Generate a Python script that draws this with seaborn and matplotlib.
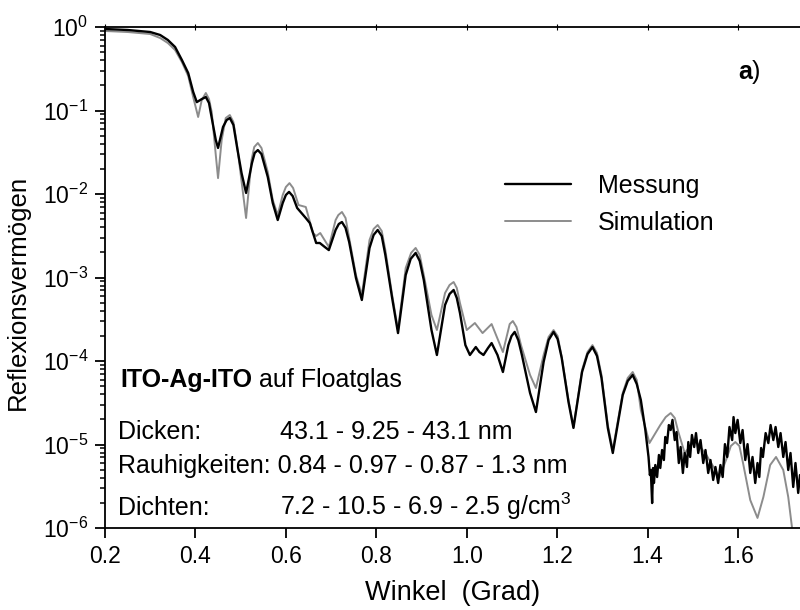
import matplotlib
matplotlib.use("Agg")
import matplotlib.pyplot as plt
import numpy as np
import pandas as pd
import seaborn as sns

# ---------------- data ----------------
winkel_mess = [
    0.200, 0.250, 0.300, 0.322, 0.339, 0.355, 0.370, 0.384, 0.395, 0.403,
    0.414, 0.423, 0.430, 0.436, 0.445, 0.450, 0.461, 0.469, 0.476, 0.484,
    0.492, 0.502, 0.512, 0.525, 0.531, 0.538, 0.546, 0.560, 0.571, 0.582,
    0.593, 0.600, 0.607, 0.615, 0.625, 0.644, 0.653, 0.660, 0.667, 0.675,
    0.686, 0.695, 0.710, 0.717, 0.724, 0.732, 0.740, 0.755, 0.768, 0.785,
    0.794, 0.803, 0.812, 0.820, 0.835, 0.848, 0.865, 0.876, 0.887, 0.896,
    0.905, 0.922, 0.934, 0.952, 0.962, 0.971, 0.978, 0.985, 0.997, 1.007,
    1.020, 1.028, 1.037, 1.047, 1.055, 1.068, 1.080, 1.092, 1.099, 1.106,
    1.114, 1.122, 1.140, 1.153, 1.170, 1.181, 1.192, 1.201, 1.210, 1.225,
    1.236, 1.255, 1.267, 1.278, 1.288, 1.298, 1.312, 1.323, 1.345, 1.356,
    1.367, 1.376, 1.385, 1.395,
    1.402, 1.405, 1.407, 1.410, 1.412, 1.414, 1.417, 1.421, 1.425,
    1.428, 1.432, 1.436, 1.439, 1.443, 1.447, 1.451, 1.455, 1.460, 1.464,
    1.469, 1.473, 1.478, 1.482, 1.487, 1.490, 1.494, 1.498, 1.503, 1.507,
    1.512, 1.517, 1.523, 1.528, 1.534, 1.539, 1.545, 1.550, 1.556, 1.561,
    1.566, 1.571, 1.576, 1.581, 1.587, 1.590, 1.594, 1.599, 1.605, 1.610,
    1.616, 1.621, 1.627, 1.632, 1.638, 1.643, 1.647, 1.651, 1.655, 1.661,
    1.667, 1.672, 1.678, 1.683, 1.689, 1.694, 1.700, 1.705, 1.711, 1.716,
    1.722, 1.727, 1.733, 1.737,
]
refl_mess = [
    0.946, 0.921, 0.871, 0.802, 0.699, 0.576, 0.403, 0.281, 0.167, 0.126,
    0.137, 0.145, 0.123, 0.0813, 0.0443, 0.0356, 0.0635, 0.0769, 0.0813, 0.0671,
    0.0365, 0.0178, 0.0103, 0.0235, 0.0310, 0.0336, 0.0301, 0.0160, 0.00780, 0.00488,
    0.00780, 0.00973, 0.0106, 0.00946, 0.00680, 0.00516, 0.00449, 0.00341, 0.00259, 0.00259,
    0.00232, 0.00213, 0.00371, 0.00437, 0.00462, 0.00392, 0.00266, 0.000986, 0.000538, 0.00226,
    0.00323, 0.00371, 0.00314, 0.00186, 0.000568, 0.000216, 0.00107, 0.00167, 0.00197, 0.00158,
    0.000933, 0.000235, 0.000118, 0.000469, 0.000635, 0.000709, 0.000568, 0.000376, 0.000155, 0.000118,
    0.000147, 0.000128, 0.000118, 0.000143, 0.000164, 0.000118, 7.38e-5, 0.000155, 0.000199, 0.000223,
    0.000178, 0.000118, 4.14e-5, 2.45e-5, 9.73e-5, 0.000178, 0.000223, 0.000183, 0.000109, 3.23e-5,
    1.58e-5, 7.38e-5, 0.000121, 0.000147, 0.000115, 6.26e-5, 1.58e-5, 7.91e-6, 3.92e-5, 5.76e-5,
    6.80e-5, 5.30e-5, 3.41e-5, 1.49e-5,
    7.09e-6, 4.31e-6, 4.95e-6, 1.99e-6, 5.23e-6, 3.46e-6, 5.68e-6, 4.08e-6, 7.49e-6,
    5.23e-6, 8.59e-6, 6.52e-6, 1.23e-5, 1.04e-5, 1.71e-5, 1.49e-5, 1.97e-5, 1.13e-5, 1.41e-5,
    6.00e-6, 9.33e-6, 4.56e-6, 7.91e-6, 5.38e-6, 1.07e-5, 7.09e-6, 1.30e-5, 9.33e-6, 1.37e-5,
    7.91e-6, 1.13e-5, 6.00e-6, 8.59e-6, 4.56e-6, 6.52e-6, 3.76e-6, 5.38e-6, 3.46e-6, 5.68e-6,
    4.08e-6, 1.01e-5, 7.09e-6, 1.62e-5, 1.13e-5, 2.13e-5, 1.37e-5, 1.97e-5, 1.04e-5, 1.49e-5,
    6.52e-6, 1.01e-5, 4.56e-6, 7.09e-6, 3.46e-6, 6.00e-6, 4.08e-6, 9.08e-6, 7.09e-6, 1.37e-5,
    1.04e-5, 1.71e-5, 1.13e-5, 1.62e-5, 9.33e-6, 1.37e-5, 7.09e-6, 1.07e-5, 4.95e-6, 7.91e-6,
    3.10e-6, 6.00e-6, 2.63e-6, 4.31e-6,
]

winkel_sim = [
    0.200, 0.250, 0.300, 0.322, 0.339, 0.355, 0.370, 0.384, 0.395, 0.406,
    0.414, 0.423, 0.430, 0.436, 0.445, 0.450, 0.458, 0.467, 0.476, 0.484,
    0.492, 0.503, 0.512, 0.524, 0.530, 0.538, 0.546, 0.560, 0.571, 0.582,
    0.593, 0.600, 0.608, 0.616, 0.628, 0.644, 0.660, 0.667, 0.676, 0.695,
    0.710, 0.716, 0.724, 0.732, 0.740, 0.755, 0.768, 0.785, 0.794, 0.803,
    0.812, 0.820, 0.835, 0.848, 0.865, 0.877, 0.887, 0.896, 0.905, 0.922,
    0.934, 0.952, 0.962, 0.971, 0.978, 0.985, 1.000, 1.018, 1.035, 1.055,
    1.080, 1.095, 1.102, 1.110, 1.120, 1.140, 1.153, 1.170, 1.181, 1.192,
    1.201, 1.210, 1.225, 1.236, 1.255, 1.267, 1.278, 1.288, 1.298, 1.312,
    1.323, 1.345, 1.356, 1.367, 1.376, 1.385, 1.404, 1.428, 1.440, 1.451,
    1.460, 1.468, 1.482, 1.505, 1.530, 1.559, 1.576, 1.584, 1.594, 1.603,
    1.611, 1.627, 1.643, 1.656, 1.671, 1.684, 1.700, 1.711, 1.720, 1.735,
]
refl_sim = [
    0.896, 0.871, 0.824, 0.738, 0.643, 0.530, 0.381, 0.259, 0.145, 0.0836,
    0.134, 0.162, 0.137, 0.0960, 0.0293, 0.0155, 0.0443, 0.0813, 0.0883, 0.0728,
    0.0386, 0.0128, 0.00516, 0.0255, 0.0365, 0.0408, 0.0356, 0.0183, 0.00847, 0.00560,
    0.00973, 0.01213, 0.0135, 0.01180, 0.00738, 0.00699, 0.00341, 0.00314, 0.00341, 0.00232,
    0.00488, 0.00560, 0.00609, 0.00516, 0.00297, 0.00107, 0.000617, 0.00281, 0.00381, 0.00425,
    0.00360, 0.00213, 0.000617, 0.000235, 0.00130, 0.00197, 0.00226, 0.00186, 0.00107, 0.000356,
    0.000235, 0.000652, 0.000813, 0.000883, 0.000749, 0.000495, 0.000235, 0.000285, 0.000216, 0.000277,
    0.000128, 0.000277, 0.000301, 0.000255, 0.000155, 6.80e-5, 4.75e-5, 0.000118, 0.000194, 0.000235,
    0.000199, 0.000112, 3.41e-5, 1.62e-5, 7.80e-5, 0.000128, 0.000155, 0.000125, 6.80e-5, 1.71e-5,
    8.59e-6, 4.14e-5, 6.26e-5, 7.38e-5, 5.92e-5, 2.59e-5, 1.04e-5, 1.71e-5, 2.13e-5, 2.38e-5,
    2.08e-5, 1.41e-5, 7.91e-6, 1.13e-5, 7.49e-6, 4.08e-6, 7.09e-6, 9.59e-6, 1.07e-5, 9.59e-6,
    6.00e-6, 2.16e-6, 1.32e-6, 2.35e-6, 5.68e-6, 7.09e-6, 4.95e-6, 2.35e-6, 9.46e-7, 2.38e-7,
]

x_ticks = [0.2, 0.4, 0.6, 0.8, 1.0, 1.2, 1.4, 1.6]
y_ticks = [1e-6, 1e-5, 1e-4, 1e-3, 1e-2, 1e-1, 1e0]
series_names = ["Messung", "Simulation"]

# ---------------- style ----------------
sns.set_theme(style="ticks")
plt.rcParams["font.family"] = ["Liberation Sans", "DejaVu Sans"]
plt.rcParams["mathtext.fontset"] = "custom"
plt.rcParams["mathtext.rm"] = "Liberation Sans"
plt.rcParams["mathtext.bf"] = "Liberation Sans:bold"
plt.rcParams["mathtext.it"] = "Liberation Sans:italic"
plt.rcParams["axes.unicode_minus"] = False

W, H = 800, 610
fig = plt.figure(figsize=(W / 100, H / 100), dpi=100)
L, R, T, B = 105, 800, 27, 528
ax = fig.add_axes([L / W, (H - B) / H, (R - L) / W, (B - T) / H])

df_mess = pd.DataFrame({"Winkel": winkel_mess, "R": refl_mess})
df_sim = pd.DataFrame({"Winkel": winkel_sim, "R": refl_sim})

sns.lineplot(data=df_sim, x="Winkel", y="R", color="#8c8c8c", linewidth=1.4,
             estimator=None, sort=False, ax=ax, label=series_names[1], zorder=2)
sns.lineplot(data=df_mess, x="Winkel", y="R", color="black", linewidth=1.7,
             estimator=None, sort=False, ax=ax, label=series_names[0], zorder=3)

ax.set_yscale("log")
ax.set_ylim(1e-6, 1)
ax.set_xlim(0.2, 1.737)
ax.set_xticks(x_ticks)
ax.set_xticklabels([f"{v:.1f}" for v in x_ticks])
ax.set_yticks(y_ticks)
ax.yaxis.set_minor_locator(matplotlib.ticker.LogLocator(base=10, subs=np.arange(2, 10), numticks=20))
ax.yaxis.set_minor_formatter(matplotlib.ticker.NullFormatter())

for side in ["left", "bottom", "top"]:
    ax.spines[side].set_linewidth(1.3)
    ax.spines[side].set_color("black")
ax.spines["right"].set_visible(False)

ax.tick_params(axis="both", which="major", direction="out", length=7, width=1.3,
               labelsize=16.5, color="black", labelcolor="black", pad=5,
               left=True, bottom=True, right=False, top=False)
ax.tick_params(axis="y", which="minor", direction="out", length=3.5, width=1.1,
               color="black", left=True, right=False)
ax.tick_params(axis="x", which="minor", bottom=False, top=False)

# small marks on the top frame line at the major x positions
ax.plot(x_ticks, [1.0] * len(x_ticks), linestyle="none", marker="|", markersize=5,
        markeredgewidth=0.8, color="black", clip_on=False, zorder=4)

ax.set_xlabel("Winkel  (Grad)", fontsize=19.5, labelpad=9, color="black")
ax.set_ylabel("Reflexionsvermögen", fontsize=18.5, color="black")
ax.yaxis.set_label_coords(-0.108, (B - 292) / (B - T))

# legend
handles, labels = ax.get_legend_handles_labels()
order = [labels.index(n) for n in series_names]
leg = ax.legend([handles[i] for i in order], [labels[i] for i in order],
                loc="upper left", bbox_to_anchor=((505 - L) / (R - L), (B - 174) / (B - T)),
                frameon=False, fontsize=18, handlelength=2.64, handletextpad=1.08,
                labelspacing=0.5, borderpad=0, borderaxespad=0)
for t in leg.get_texts():
    t.set_color("black")

# annotations
def fx(px):
    return (px - L) / (R - L)

def fy(py):
    return (B - py) / (B - T)

fs = 18
ta = ax.text(fx(738), fy(79), "a", transform=ax.transAxes, fontsize=fs,
             fontweight="bold", va="baseline", ha="left", color="black")
ax.annotate(")", xy=(1, 0), xycoords=ta, va="bottom", ha="left", fontsize=fs, color="black")

tb = ax.text(fx(120), fy(387), "ITO-Ag-ITO", transform=ax.transAxes, fontsize=fs,
             fontweight="bold", va="baseline", ha="left", color="black")
ax.annotate(" auf Floatglas", xy=(1, 0), xycoords=tb, va="bottom", ha="left",
            fontsize=fs, color="black")

ax.text(fx(118), fy(439), "Dicken:", transform=ax.transAxes, fontsize=fs,
        va="baseline", ha="left", color="black")
ax.text(fx(280), fy(439), "43.1 - 9.25 - 43.1 nm", transform=ax.transAxes, fontsize=fs,
        va="baseline", ha="left", color="black")
ax.text(fx(118), fy(473), "Rauhigkeiten: 0.84 - 0.97 - 0.87 - 1.3 nm", transform=ax.transAxes,
        fontsize=fs, va="baseline", ha="left", color="black")
ax.text(fx(118), fy(515), "Dichten:", transform=ax.transAxes, fontsize=fs,
        va="baseline", ha="left", color="black")
ax.text(fx(280), fy(515), "7.2 - 10.5 - 6.9 - 2.5 g/cm$^{3}$", transform=ax.transAxes,
        fontsize=fs, va="baseline", ha="left", color="black")

fig.savefig("out.png", dpi=100)
